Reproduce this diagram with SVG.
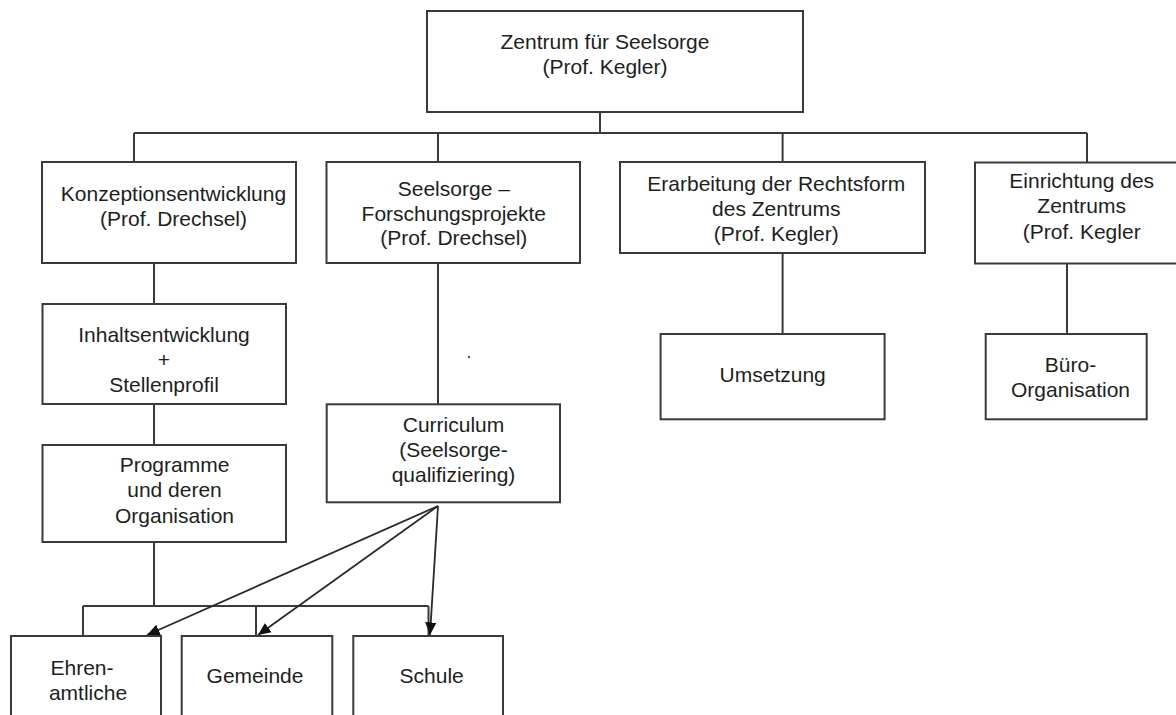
<svg xmlns="http://www.w3.org/2000/svg" width="1176" height="715" viewBox="0 0 1176 715">
<style>
.box{fill:#fff;stroke:#3a3a3a;stroke-width:2}
.ln{fill:none;stroke:#3a3a3a;stroke-width:2}
.ar{fill:none;stroke:#2a2a2a;stroke-width:1.8}
text{font-family:"Liberation Sans",Arial,sans-serif;font-size:21px;fill:#1e1e1e;text-anchor:middle}
</style>
<defs>
<marker id="ah" viewBox="0 0 10 10" refX="10" refY="5" markerWidth="7" markerHeight="7" markerUnits="strokeWidth" orient="auto">
<path d="M0,0.5 L10,5 L0,9.5 z" fill="#111"/>
</marker>
</defs>
<rect width="1176" height="715" fill="#fff"/>
<g id="connectors">
<path class="ln" d="M600,112 V133 M134,133 H1087 M134,133 V162 M438,133 V162 M782.6,133 V162 M1087,133 V162"/>
<path class="ln" d="M154,263 V304 M154,404 V445 M154,542 V606 M83,606 H428.5 M83,606 V636 M256,606 V636 M428.5,606 V636"/>
<path class="ln" d="M438,263 V404"/>
<path class="ln" d="M782.6,253 V334 M1067,263 V334"/>
<path class="ar" d="M438,506 L147,635" marker-end="url(#ah)"/>
<path class="ar" d="M438,506 L258,635" marker-end="url(#ah)"/>
<path class="ar" d="M438,506 L430,635" marker-end="url(#ah)"/>
</g>
<g id="n-zentrum"><rect class="box" x="427" y="11" width="376" height="101"/><text x="605" y="49">Zentrum für Seelsorge</text><text x="605" y="74">(Prof. Kegler)</text></g>
<g id="n-konzeption"><rect class="box" x="42" y="162" width="254" height="101"/><text x="173.5" y="201">Konzeptionsentwicklung</text><text x="173.5" y="226">(Prof. Drechsel)</text></g>
<g id="n-forschung"><rect class="box" x="326.5" y="162" width="253.5" height="101"/><text x="453.8" y="195.7">Seelsorge –</text><text x="453.8" y="220.7">Forschungsprojekte</text><text x="453.8" y="245">(Prof. Drechsel)</text></g>
<g id="n-rechtsform"><rect class="box" x="620" y="162" width="305" height="91"/><text x="776.3" y="190.7">Erarbeitung der Rechtsform</text><text x="776.3" y="215.7">des Zentrums</text><text x="776.3" y="240.7">(Prof. Kegler)</text></g>
<g id="n-einrichtung"><rect class="box" x="975" y="162.5" width="215" height="101"/><text x="1081.7" y="188.3">Einrichtung des</text><text x="1081.7" y="213.3">Zentrums</text><text x="1081.7" y="239.3">(Prof. Kegler</text></g>
<g id="n-inhalt"><rect class="box" x="42.5" y="304" width="243.5" height="100"/><text x="164" y="341.7">Inhaltsentwicklung</text><text x="164" y="367">+</text><text x="164" y="391.7">Stellenprofil</text></g>
<g id="n-programme"><rect class="box" x="42.5" y="445" width="243.5" height="97"/><text x="174.5" y="471.7">Programme</text><text x="174.5" y="497.3">und deren</text><text x="174.5" y="522.7">Organisation</text></g>
<g id="n-curriculum"><rect class="box" x="326.7" y="404.3" width="233.3" height="98"/><text x="453.5" y="432.3">Curriculum</text><text x="453.5" y="457.3">(Seelsorge-</text><text x="453.5" y="481.7">qualifiziering)</text></g>
<g id="n-umsetzung"><rect class="box" x="660.6" y="334" width="224" height="85.3"/><text x="772.7" y="381.7">Umsetzung</text></g>
<g id="n-buero"><rect class="box" x="985.7" y="334" width="161" height="85.3"/><text x="1070.5" y="371.7">Büro-</text><text x="1070.5" y="396.7">Organisation</text></g>
<g id="n-ehren"><rect class="box" x="11" y="636" width="150" height="100"/><text x="82" y="675">Ehren-</text><text x="88" y="700">amtliche</text></g>
<g id="n-gemeinde"><rect class="box" x="181.7" y="636" width="150.6" height="100"/><text x="255" y="683">Gemeinde</text></g>
<g id="n-schule"><rect class="box" x="353.3" y="636" width="149.7" height="100"/><text x="431.7" y="683">Schule</text></g>
<circle cx="469" cy="357" r="1.2" fill="#555"/>
</svg>
